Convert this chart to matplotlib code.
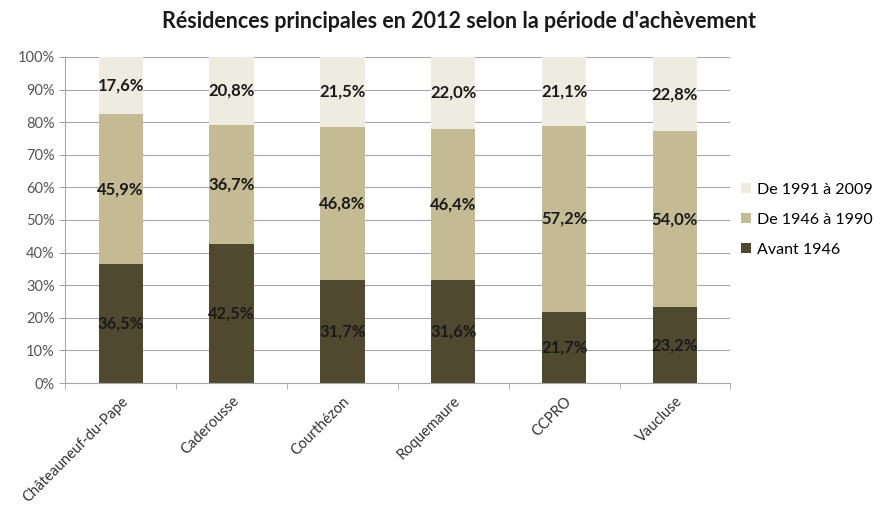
import numpy as np
import matplotlib.pyplot as plt

plt.rcParams['font.family'] = ['Lato', 'DejaVu Sans']

communes = ['Châteauneuf-du-Pape', 'Caderousse', 'Courthézon', 'Roquemaure', 'CCPRO', 'Vaucluse']
avant_1946 = [36.5, 42.5, 31.7, 31.6, 21.7, 23.2]
de_1946_1990 = [45.9, 36.7, 46.8, 46.4, 57.2, 54.0]
de_1991_2009 = [17.6, 20.8, 21.5, 22.0, 21.1, 22.8]

series = [
    ('Avant 1946', avant_1946, '#4f4a2f'),
    ('De 1946 à 1990', de_1946_1990, '#c4ba94'),
    ('De 1991 à 2009', de_1991_2009, '#eeebe0'),
]

fig = plt.figure(figsize=(8.94, 5.08), dpi=100)
ax = fig.add_axes([0.073, 0.246, 0.744, 0.642])

x = np.arange(len(communes))
bottom = np.zeros(len(communes))
handles = []
for name, vals, col in series:
    vals = np.array(vals)
    b = ax.bar(x, vals, 0.4, bottom=bottom, color=col, label=name, zorder=2)
    handles.append(b)
    for xi, v, bo in zip(x, vals, bottom):
        ax.text(xi, bo + v / 2, f'{v:.1f}%'.replace('.', ','), ha='center', va='center',
                fontsize=12, fontweight='bold', color='#1a1a1a', zorder=3)
    bottom += vals

ax.set_xlim(-0.5, len(communes) - 0.5)
ax.set_ylim(0, 100)
ax.set_yticks(np.arange(0, 101, 10))
ax.set_yticklabels([f'{v}%' for v in range(0, 101, 10)], fontsize=10.5, color='#555555')
ax.yaxis.grid(True, color='#a6a6a6', linewidth=0.8, zorder=0)
ax.set_axisbelow(True)

ax.set_xticks(x)
ax.set_xticklabels(communes, rotation=45, ha='right', rotation_mode='anchor',
                   fontsize=10.5, color='#333333')
ax.tick_params(axis='x', length=0, pad=8)
ax.set_xticks(np.arange(-0.5, len(communes), 1), minor=True)
ax.tick_params(axis='x', which='minor', length=4, color='#a6a6a6')
ax.tick_params(axis='y', length=4, color='#a6a6a6')

for s in ['top', 'right']:
    ax.spines[s].set_visible(False)
for s in ['left', 'bottom']:
    ax.spines[s].set_color('#a6a6a6')

ax.legend(handles[::-1], [s[0] for s in series][::-1], loc='center left',
          bbox_to_anchor=(0.995, 0.5), frameon=False, fontsize=11.5,
          handlelength=0.6, handleheight=0.6, labelspacing=1.0, handletextpad=0.4)

fig.suptitle("Résidences principales en 2012 selon la période d'achèvement",
             x=0.513, y=0.978, fontsize=15.5, fontweight='bold', color='#1a1a1a')

fig.savefig('out.png', dpi=100)
